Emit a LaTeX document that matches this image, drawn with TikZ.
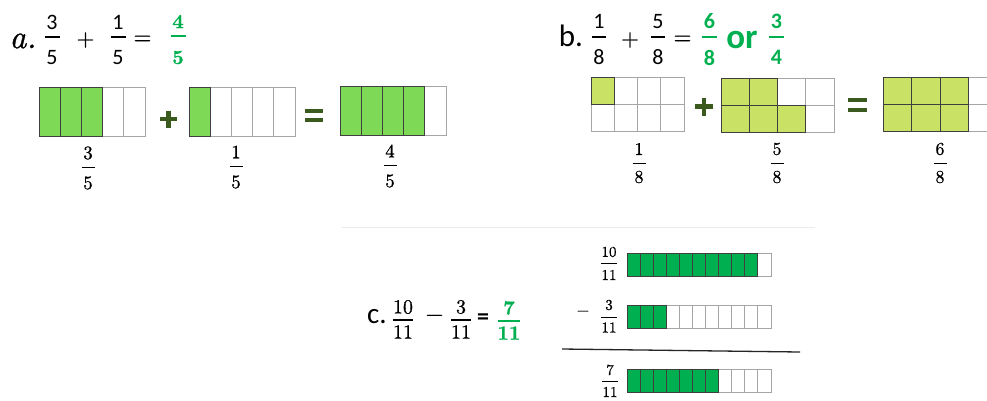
\documentclass[tikz,border=0pt]{standalone}
\usepackage{fontspec}
\newfontfamily\carl{Carlito}
\newfontfamily\cam{lmroman10-regular}[Extension=.otf, BoldFont=lmroman10-bold, ItalicFont=lmroman10-italic, FakeBold=0.8]
\definecolor{agreen}{HTML}{7ED957}
\definecolor{bgreen}{HTML}{C9E265}
\definecolor{cgreen}{HTML}{00B050}
\definecolor{ansgreen}{HTML}{00B050}
\definecolor{signgreen}{HTML}{3A5A1E}
\definecolor{emptyline}{HTML}{A6A6A6}
\definecolor{fullline}{HTML}{3F3F3F}
\tikzset{
  ftxt/.style={inner sep=0pt, anchor=center},
  fbar/.style={line width=1pt},
  topsans/.style={font=\carl\fontsize{22}{22}\selectfont, line width=1.3pt},
  topsansans/.style={font=\carl\bfseries\fontsize{22}{22}\selectfont, color=ansgreen, line width=2pt},
  topserif/.style={font=\cam\fontsize{20}{20}\selectfont, line width=1.2pt},
  topserifans/.style={font=\cam\bfseries\fontsize{20}{20}\selectfont, color=ansgreen, line width=2pt},
  lab/.style={font=\cam\fontsize{19}{19}\selectfont, line width=1pt},
  labb/.style={font=\cam\fontsize{18}{18}\selectfont, line width=1pt},
  labc/.style={font=\cam\fontsize{15}{15}\selectfont, line width=0.9pt},
  emptycell/.style={draw=emptyline, line width=0.9pt, fill=white},
  fullcell/.style={draw=fullline, line width=0.9pt},
  bigsign/.style={draw=signgreen, line width=4.5pt},
  txt/.style={inner sep=0pt, anchor=center},
  opsign/.style={txt, font=\cam\fontsize{23}{23}\selectfont},
}
% fraction: x, ynum, ybar, yden, num, den, halfwidth, style
\newcommand\fr[8]{%
  \node[ftxt,#8] at (#1,#2) {#5};
  \draw[fbar,#8] ({#1-#7},#3) -- ({#1+#7},#3);
  \node[ftxt,#8] at (#1,#4) {#6};}
% strip: x0, y0, w, h, n cells, k filled, fill colour
\newcommand\strip[7]{%
  \foreach \i in {1,...,#5}{\draw[emptycell] ({#1+(\i-1)*#3},#2) rectangle ++(#3,#4);}
  \foreach \i in {1,...,#6}{\draw[fullcell,fill=#7] ({#1+(\i-1)*#3},#2) rectangle ++(#3,#4);}}
\begin{document}
\begin{tikzpicture}[x=1pt,y=-1pt]
\useasboundingbox[fill=white] (0,0) rectangle (987,400);
\clip (0,0) rectangle (987,400);
% ---------- part a ----------
\node[txt,font=\cam\itshape\fontsize{33}{33}\selectfont] (alab) at (23,41) {a.};
\fr{52}{22}{37}{58}{3}{5}{7.5}{topsans}
\node[opsign] (aplus) at (85.5,40) {+};
\fr{118}{22}{37}{58}{1}{5}{7.5}{topsans}
\node[opsign] (aeq) at (142.5,40) {=};
\fr{178}{21.5}{36}{57.5}{4}{5}{7.5}{topserifans}
\strip{39}{87}{21.2}{49}{5}{3}{agreen}
\strip{189}{87}{21.2}{49}{5}{1}{agreen}
\strip{340}{86}{21.2}{49}{5}{4}{agreen}
\draw[bigsign] (160,119) -- (177,119) (168.5,110.5) -- (168.5,127.5);
\draw[bigsign,line width=4pt] (305,111) -- (323,111) (305,119.5) -- (323,119.5);
\fr{88}{153}{167}{183}{3}{5}{6.5}{lab}
\fr{236}{152}{166}{182}{1}{5}{6.5}{lab}
\fr{390}{151}{165}{181}{4}{5}{6.5}{lab}
% ---------- part b ----------
\node[txt,font=\carl\fontsize{31}{31}\selectfont] (blab) at (571,36) {b.};
\fr{599}{21.5}{37}{57.5}{1}{8}{7}{topsans}
\node[opsign] (bplus) at (630,40) {+};
\fr{658}{21.5}{37}{57.5}{5}{8}{7}{topsans}
\node[opsign] (beq) at (682.5,40) {=};
\fr{709.5}{21.5}{37}{57.5}{6}{8}{7.5}{topsansans}
\node[txt,font=\carl\bfseries\fontsize{35}{35}\selectfont,text=ansgreen] (bor) at (742,40) {or};
\fr{776.5}{21.5}{37}{57.5}{3}{4}{7.5}{topsansans}
% grid 1
\foreach \c in {0,...,3}{\foreach \r in {0,1}{\draw[emptycell] ({591+\c*23.25},{77+\r*27}) rectangle ++(23.25,27);}}
\draw[fullcell,fill=bgreen] (591,77) rectangle ++(23.25,27);
% grid 2
\foreach \c in {0,...,3}{\foreach \r in {0,1}{\draw[emptycell] ({721+\c*28.25},{78+\r*27}) rectangle ++(28.25,27);}}
\foreach \c/\r in {0/0,1/0,0/1,1/1,2/1}{\draw[fullcell,fill=bgreen] ({721+\c*28.25},{78+\r*27}) rectangle ++(28.25,27);}
% grid 3
\foreach \c in {0,...,3}{\foreach \r in {0,1}{\draw[emptycell] ({883+\c*28.5},{77+\r*27}) rectangle ++(28.5,27);}}
\foreach \c/\r in {0/0,1/0,2/0,0/1,1/1,2/1}{\draw[fullcell,fill=bgreen] ({883+\c*28.5},{77+\r*27}) rectangle ++(28.5,27);}
\draw[bigsign] (695,106.5) -- (713,106.5) (704,97.5) -- (704,115.5);
\draw[bigsign,line width=4pt] (848,100) -- (867,100) (848,109.5) -- (867,109.5);
\fr{639}{149}{163}{177}{1}{8}{6.5}{labb}
\fr{777}{149}{163}{177}{5}{8}{6.5}{labb}
\fr{940}{149}{163}{177}{6}{8}{6.5}{labb}
% ---------- part c ----------
\draw[draw=black!8,line width=1pt] (342,227) -- (815,227);
\node[txt,font=\carl\fontsize{29}{29}\selectfont] (clab) at (377,317) {c.};
\fr{403}{307}{320}{332}{10}{11}{10}{topserif}
\node[opsign] (cminus) at (434.5,318) {−};
\fr{461}{307}{320}{332}{3}{11}{10}{topserif}
\node[txt,font=\carl\bfseries\fontsize{24}{24}\selectfont] (ceq) at (483,319) {=};
\fr{509}{308}{321}{333}{7}{11}{11}{topserifans}
\strip{627}{253}{13.09}{23}{11}{10}{cgreen}
\strip{627}{305}{13.09}{23}{11}{3}{cgreen}
\strip{627}{369}{13.09}{23}{11}{7}{cgreen}
\fr{609}{252}{263.5}{275}{10}{11}{8}{labc}
\fr{609}{305}{317}{327.5}{3}{11}{8}{labc}
\node[txt,font=\cam\fontsize{16}{16}\selectfont] (cminus2) at (583,313) {−};
\draw[line width=1.3pt,draw=black!85] (562,349) -- (800,352);
\fr{610}{370}{381}{392}{7}{11}{8}{labc}
\end{tikzpicture}
\end{document}
